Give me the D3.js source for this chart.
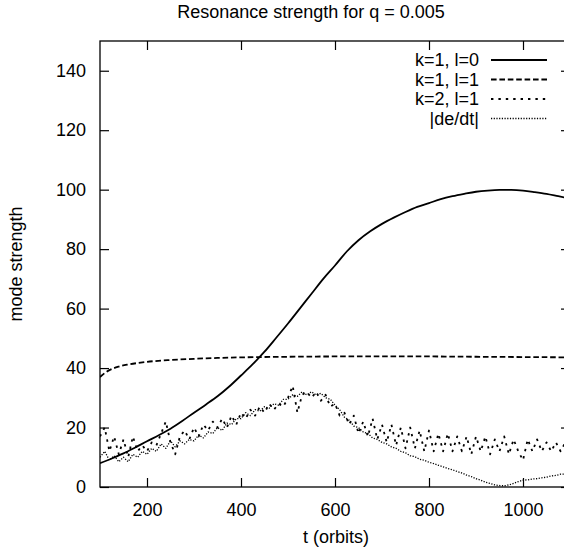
<!DOCTYPE html>
<html>
<head>
<meta charset="utf-8">
<script src="https://cdn.jsdelivr.net/npm/d3@7"></script>
<style>
  html, body { margin: 0; padding: 0; background: #fff; }
  svg { display: block; }
  text { font-family: "Liberation Sans", Arial, Helvetica, sans-serif; fill: #000; }
</style>
</head>
<body>
<svg id="chart" width="564" height="551"></svg>
<script>
// ---------- data ----------
const title = "Resonance strength for q = 0.005";
const xLabel = "t (orbits)";
const yLabel = "mode strength";
const xTicks = [200, 400, 600, 800, 1000];
const yTicks = [0, 20, 40, 60, 80, 100, 120, 140];
const seriesNames = ["k=1, l=0", "k=1, l=1", "k=2, l=1", "|de/dt|"];

// k=1, l=0 (smooth, solid)
const t10 = [100,125,150,175,200,225,250,275,300,325,350,375,400,425,450,475,500,525,550,575,600,625,650,675,700,725,750,775,800,825,850,875,900,925,950,975,1000,1025,1050,1075,1100];
const k1l0 = [8,9.6,11.3,13.3,15.4,17.4,19.6,22.2,25,27.7,30.5,33.8,37.5,41.3,45.5,50.2,55,60,65,70,74.5,79.2,83,86,88.5,90.6,92.5,94.2,95.5,96.8,97.8,98.6,99.3,99.7,99.9,99.9,99.7,99.2,98.6,97.8,97];

// k=1, l=1 (smooth, dashed)
const tK1l1 = [100,110,120,140,160,180,200,250,300,350,400,500,600,700,800,900,1000,1100];
const k1l1 = [37,38.3,39.3,40.5,41.2,41.7,42.1,42.7,43.1,43.4,43.6,43.8,43.9,43.9,43.9,43.8,43.7,43.6];

// noisy series, sampled every 10 orbits from t = 100 to 1100
const tNoisy = d3.range(100, 1101, 10);
const k2l1 = [17,20,12,17,11,16,10,17,12,14,
              12,15,14,18,22,15,11,17,19,16,
              20,17,21,19,22,20,23,20,24,21,
              25,23,26,24,27,25,28,26,28,27,
              30,34,25,31,32,30,32,29,31,27,
              28,24,25,21,24,18,22,17,23,16,
              21,15,21,14,20,13,20,13,19,12,
              19,12,18,12,18,12,17,12,17,11,
              17,12,17,11,16,12,17,11,16,12,
              9,16,12,16,12,15,12,15,12,15,
              12];
const dedt = [10,12,9,10.5,8.5,10,8.5,11,10,12,
              11,13,12,14.5,13,15.5,13.5,15.5,14.5,16,
              15.5,17.5,16.5,18.5,18,20,19,21.5,21,23,
              23,25,24,26,25.5,27,26.5,28,27.5,29.5,
              29.5,31,30.5,32,31,32,31,31.5,30,29.5,
              27.5,26,23.5,22.5,20.5,20,18.5,18,16.5,16,
              15,14.5,13.5,13,12,11.5,10.5,10.2,9.3,9,
              8.3,7.9,7.3,6.8,6.2,5.8,5.2,4.7,4,3.5,
              2.8,2.3,1.6,1.2,0.7,0.5,0.4,0.7,1.2,1.8,
              2.3,2.4,2.7,2.8,3.1,3.3,3.7,3.9,4.3,4.3,
              4.5];

// ---------- layout ----------
const svg = d3.select("#chart");
const plot = { left: 100, right: 570, top: 41, bottom: 487 };

const x = d3.scaleLinear().domain([100, 1100]).range([plot.left, plot.right]);
const y = d3.scaleLinear().domain([0, 150]).range([plot.bottom, plot.top]);

svg.append("defs").append("clipPath").attr("id", "clip")
  .append("rect")
  .attr("x", plot.left).attr("y", plot.top)
  .attr("width", plot.right - plot.left).attr("height", plot.bottom - plot.top);

// title
svg.append("text").attr("x", 311).attr("y", 18)
  .attr("text-anchor", "middle").attr("font-size", 18).text(title);

// axes (inward ticks, mirrored)
const tickLen = 9;
const fmt = d3.format("d");
const axB = svg.append("g").attr("transform", `translate(0,${plot.bottom})`)
  .call(d3.axisBottom(x).tickValues(xTicks).tickFormat(fmt).tickSizeInner(-tickLen).tickSizeOuter(0).tickPadding(16));
const axT = svg.append("g").attr("transform", `translate(0,${plot.top})`)
  .call(d3.axisTop(x).tickValues(xTicks).tickSizeInner(-tickLen).tickSizeOuter(0).tickFormat(""));
const axL = svg.append("g").attr("transform", `translate(${plot.left},0)`)
  .call(d3.axisLeft(y).tickValues(yTicks).tickFormat(fmt).tickSizeInner(-tickLen).tickSizeOuter(0).tickPadding(14));
const axR = svg.append("g").attr("transform", `translate(${plot.right},0)`)
  .call(d3.axisRight(y).tickValues(yTicks).tickSizeInner(-tickLen).tickSizeOuter(0).tickFormat(""));

[axB, axT, axL, axR].forEach(a => {
  a.select(".domain").remove();
  a.selectAll("line").attr("stroke", "#000").attr("stroke-width", 1.2);
  a.selectAll("text").attr("font-size", 18).attr("font-family", "Liberation Sans, Arial, sans-serif").attr("fill", "#000");
});

// frame
svg.append("rect")
  .attr("x", plot.left).attr("y", plot.top)
  .attr("width", plot.right - plot.left).attr("height", plot.bottom - plot.top)
  .attr("fill", "none").attr("stroke", "#000").attr("stroke-width", 1.3);

// axis labels
svg.append("text").attr("x", 336).attr("y", 543)
  .attr("text-anchor", "middle").attr("font-size", 18).text(xLabel);
svg.append("text")
  .attr("transform", `translate(22,${(plot.top + plot.bottom) / 2}) rotate(-90)`)
  .attr("text-anchor", "middle").attr("font-size", 18).text(yLabel);

// series
const styles = [
  { dash: null, width: 1.8 },
  { dash: "5.6,2.8", width: 1.8 },
  { dash: "2.4,5.0", width: 1.8 },
  { dash: "1.2,1.5", width: 1.3 }
];
const datasets = [
  { t: t10, v: k1l0, curve: d3.curveMonotoneX },
  { t: tK1l1, v: k1l1, curve: d3.curveMonotoneX },
  { t: tNoisy, v: k2l1, curve: d3.curveLinear },
  { t: tNoisy, v: dedt, curve: d3.curveLinear }
];

const g = svg.append("g").attr("clip-path", "url(#clip)");
[3, 2, 1, 0].forEach(i => {
  const ds = datasets[i];
  const pts = ds.t.map((tv, j) => [tv, ds.v[j]]);
  const line = d3.line().x(d => x(d[0])).y(d => y(d[1])).curve(ds.curve);
  g.append("path").datum(pts)
    .attr("d", line)
    .attr("fill", "none")
    .attr("stroke", "#000")
    .attr("stroke-width", styles[i].width)
    .attr("stroke-dasharray", styles[i].dash)
    .attr("stroke-linejoin", "round");
});

// legend
const legRows = [60, 79.5, 99, 118.5];
seriesNames.forEach((name, i) => {
  svg.append("text").attr("x", 479).attr("y", legRows[i]).attr("dy", "0.35em")
    .attr("text-anchor", "end").attr("font-size", 18).text(name);
  svg.append("line")
    .attr("x1", 491).attr("x2", 547)
    .attr("y1", legRows[i]).attr("y2", legRows[i])
    .attr("stroke", "#000")
    .attr("stroke-width", styles[i].width)
    .attr("stroke-dasharray", styles[i].dash);
});
</script>
</body>
</html>
